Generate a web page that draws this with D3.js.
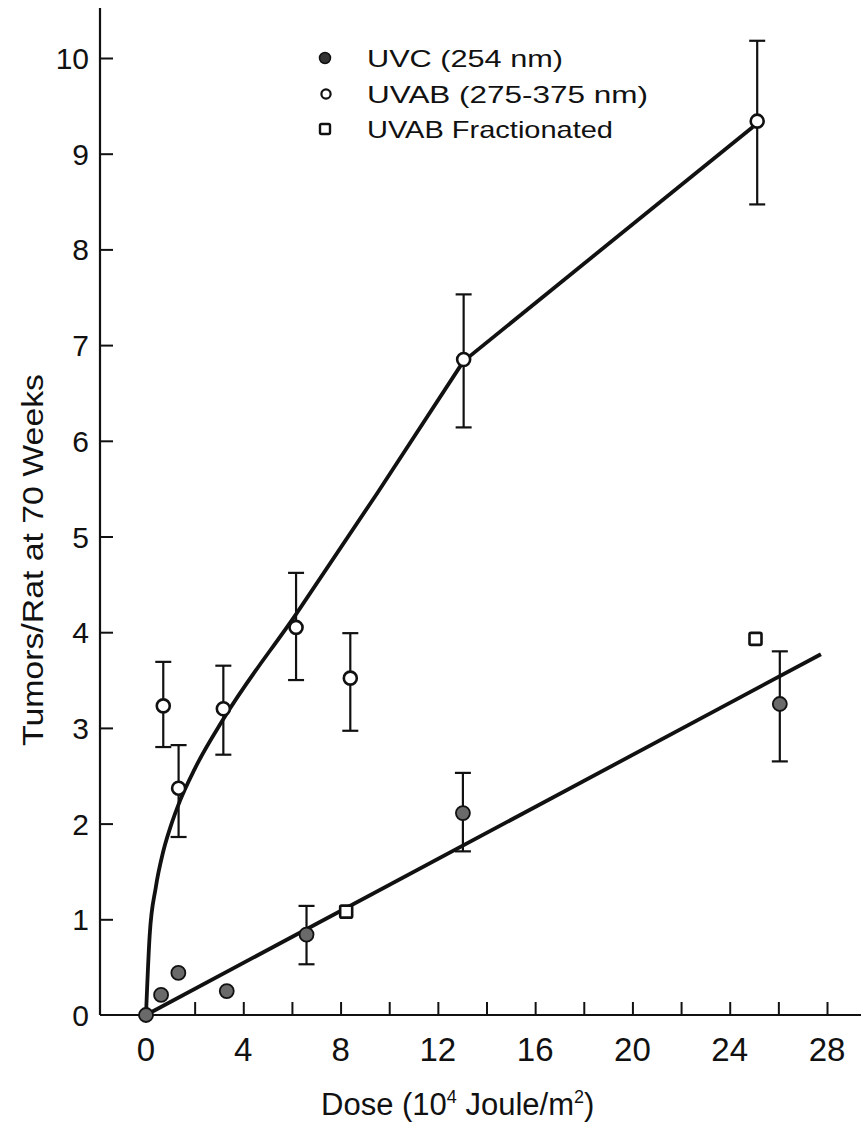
<!DOCTYPE html>
<html>
<head>
<meta charset="utf-8">
<script src="https://cdn.jsdelivr.net/npm/d3@7"></script>
<style>
  html, body { margin: 0; padding: 0; background: #fff; }
  svg { display: block; font-family: "Liberation Sans", Arial, sans-serif; }
</style>
</head>
<body>
<svg id="chart" width="861" height="1127"></svg>
<script>
// ---------- data ----------
const uvcDose    = [0, 0.62, 1.33, 3.32, 6.6, 13.03, 26.06];
const uvcTumors  = [0, 0.21, 0.44, 0.25, 0.84, 2.11, 3.25];
const uvcErrLow  = [null, null, null, null, 0.53, 1.71, 2.65];
const uvcErrHigh = [null, null, null, null, 1.14, 2.53, 3.80];

const uvabDose    = [0.71, 1.34, 3.18, 6.17, 8.40, 13.06, 25.13];
const uvabTumors  = [3.23, 2.37, 3.20, 4.05, 3.52, 6.85, 9.34];
const uvabErrLow  = [2.80, 1.86, 2.72, 3.50, 2.97, 6.14, 8.47];
const uvabErrHigh = [3.69, 2.82, 3.65, 4.62, 3.99, 7.53, 10.18];

const fracDose   = [8.23, 25.06];
const fracTumors = [1.08, 3.93];

// fitted lines
const uvcFitDose    = [0, 27.75];
const uvcFitTumors  = [0, 3.77];
const uvabCurveDose   = [0, 0.15, 0.4, 0.7, 1.0, 1.4, 2.0, 3.2, 6.2, 9.5, 13.05];
const uvabCurveTumors = [0, 0.83, 1.33, 1.70, 1.96, 2.24, 2.57, 3.1, 4.2, 5.45, 6.83];
const uvabLineDose    = [13.05, 24.95];
const uvabLineTumors  = [6.83, 9.28];

const xTicksMajor = [0, 4, 8, 12, 16, 20, 24, 28];
const xTicksMinor = [2, 4, 6, 8, 10, 12, 14, 16, 18, 20, 22, 24, 26, 28];
const yTicks = [0, 1, 2, 3, 4, 5, 6, 7, 8, 9, 10];

const legendLabels = ["UVC (254 nm)", "UVAB (275-375 nm)", "UVAB Fractionated"];

// ---------- layout ----------
const svg = d3.select("#chart");
const x = d3.scaleLinear().domain([0, 28]).range([146, 827]);
const y = d3.scaleLinear().domain([0, 10]).range([1015, 58]);
const axisX0 = 100;
const ink = "#111";

// axes lines
svg.append("line").attr("x1", axisX0).attr("x2", axisX0).attr("y1", 8).attr("y2", y(0))
  .attr("stroke", ink).attr("stroke-width", 2.2);
svg.append("line").attr("x1", axisX0).attr("x2", 861).attr("y1", y(0)).attr("y2", y(0))
  .attr("stroke", ink).attr("stroke-width", 2.2);

// y ticks (inward) with d3 axis
const yAxis = d3.axisRight(y).tickValues(yTicks.slice(1)).tickSize(13).tickFormat("");
const gy = svg.append("g").attr("transform", `translate(${axisX0},0)`).call(yAxis);
gy.select(".domain").remove();
gy.selectAll("line").attr("stroke", ink).attr("stroke-width", 2);

svg.append("g").selectAll("text").data(yTicks).join("text")
  .attr("x", 89).attr("y", d => y(d) + 11)
  .attr("text-anchor", "end").attr("font-size", 30).attr("fill", ink)
  .text(d => d);

// x ticks (inward, upward)
const xAxis = d3.axisTop(x).tickValues(xTicksMinor).tickSize(13).tickFormat("");
const gx = svg.append("g").attr("transform", `translate(0,${y(0)})`).call(xAxis);
gx.select(".domain").remove();
gx.selectAll("line").attr("stroke", ink).attr("stroke-width", 2);

svg.append("g").selectAll("text").data(xTicksMajor).join("text")
  .attr("x", d => x(d)).attr("y", 1061)
  .attr("text-anchor", "middle").attr("font-size", 33).attr("fill", ink)
  .text(d => d);

// axis titles
svg.append("text")
  .attr("transform", "translate(43,560) rotate(-90)")
  .attr("text-anchor", "middle").attr("font-size", 30).attr("fill", ink)
  .attr("textLength", 372).attr("lengthAdjust", "spacingAndGlyphs")
  .text("Tumors/Rat at 70 Weeks");

const xt = svg.append("text").attr("x", 321).attr("y", 1115)
  .attr("font-size", 31).attr("fill", ink);
xt.append("tspan").text("Dose (10");
xt.append("tspan").attr("dy", -12).attr("font-size", 18).text("4");
xt.append("tspan").attr("dy", 12).text(" Joule/m");
xt.append("tspan").attr("dy", -12).attr("font-size", 18).text("2");
xt.append("tspan").attr("dy", 12).text(")");

// ---------- lines ----------
const straight = d3.line().x(d => x(d[0])).y(d => y(d[1]));
const smooth = d3.line().x(d => x(d[0])).y(d => y(d[1])).curve(d3.curveMonotoneX);
svg.append("path").datum(d3.zip(uvcFitDose, uvcFitTumors))
  .attr("d", straight).attr("fill", "none").attr("stroke", ink).attr("stroke-width", 3.8);
svg.append("path").datum(d3.zip(uvabCurveDose, uvabCurveTumors))
  .attr("d", smooth).attr("fill", "none").attr("stroke", ink).attr("stroke-width", 3.8);
svg.append("path").datum(d3.zip(uvabLineDose, uvabLineTumors))
  .attr("d", straight).attr("fill", "none").attr("stroke", ink).attr("stroke-width", 3.8);

// ---------- error bars ----------
function errorBars(xs, lows, highs) {
  const data = xs.map((d, i) => ({ x: d, lo: lows[i], hi: highs[i] })).filter(d => d.lo != null);
  const g = svg.append("g").attr("stroke", ink).attr("stroke-width", 2.2);
  g.selectAll(".v").data(data).join("line")
    .attr("x1", d => x(d.x)).attr("x2", d => x(d.x)).attr("y1", d => y(d.lo)).attr("y2", d => y(d.hi));
  g.selectAll(".t").data(data).join("line")
    .attr("x1", d => x(d.x) - 8).attr("x2", d => x(d.x) + 8).attr("y1", d => y(d.hi)).attr("y2", d => y(d.hi));
  g.selectAll(".b").data(data).join("line")
    .attr("x1", d => x(d.x) - 8).attr("x2", d => x(d.x) + 8).attr("y1", d => y(d.lo)).attr("y2", d => y(d.lo));
}
errorBars(uvabDose, uvabErrLow, uvabErrHigh);
errorBars(uvcDose, uvcErrLow, uvcErrHigh);

// ---------- points ----------
svg.append("g").selectAll("circle").data(d3.zip(uvabDose, uvabTumors)).join("circle")
  .attr("cx", d => x(d[0])).attr("cy", d => y(d[1])).attr("r", 6.5)
  .attr("fill", "#fff").attr("stroke", ink).attr("stroke-width", 2.6);

svg.append("g").selectAll("circle").data(d3.zip(uvcDose, uvcTumors)).join("circle")
  .attr("cx", d => x(d[0])).attr("cy", d => y(d[1])).attr("r", 7)
  .attr("fill", "#6a6a6a").attr("stroke", ink).attr("stroke-width", 1.8);

svg.append("g").selectAll("rect").data(d3.zip(fracDose, fracTumors)).join("rect")
  .attr("x", d => x(d[0]) - 6).attr("y", d => y(d[1]) - 6).attr("width", 12).attr("height", 12)
  .attr("rx", 1.5)
  .attr("fill", "#fff").attr("stroke", ink).attr("stroke-width", 2.6);

// ---------- legend ----------
const legY = [58, 94, 129];
const legLen = [196, 281, 246];
const leg = svg.append("g");
leg.append("circle").attr("cx", 325).attr("cy", legY[0]).attr("r", 5.5)
  .attr("fill", "#333").attr("stroke", ink).attr("stroke-width", 1.5);
leg.append("circle").attr("cx", 326).attr("cy", legY[1]).attr("r", 4.6)
  .attr("fill", "#fff").attr("stroke", ink).attr("stroke-width", 2.2);
leg.append("rect").attr("x", 320).attr("y", legY[2] - 5).attr("width", 10).attr("height", 10).attr("rx", 1.5)
  .attr("fill", "#fff").attr("stroke", ink).attr("stroke-width", 2.4);
leg.selectAll("text").data(legendLabels).join("text")
  .attr("x", 367).attr("y", (d, i) => legY[i] + 9)
  .attr("font-size", 24).attr("fill", ink)
  .attr("textLength", (d, i) => legLen[i]).attr("lengthAdjust", "spacingAndGlyphs")
  .text(d => d);
</script>
</body>
</html>
